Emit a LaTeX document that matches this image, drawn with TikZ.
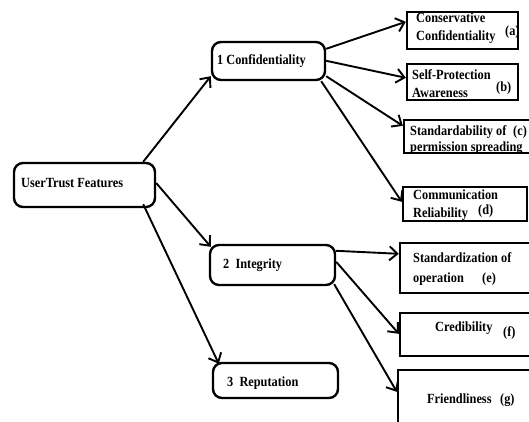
\documentclass[tikz,border=0pt]{standalone}
\usepackage{fontspec}
\setmainfont{Liberation Serif}[FakeStretch=0.88]
\usetikzlibrary{arrows.meta,calc}
\tikzset{
  rbox/.style={draw,line width=2.4pt,rounded corners=9pt,inner sep=0pt},
  sbox/.style={draw,line width=2.4pt,inner sep=0pt},
  txt/.style={anchor=base west,inner sep=0pt,font=\fontsize{14}{16}\selectfont\bfseries},
  conn/.style={line width=1.9pt,-{Straight Barb[length=8pt,width=14pt,line width=1.9pt]}}
}
\begin{document}
\begin{tikzpicture}[x=1pt,y=-1pt]
\useasboundingbox (0,0) rectangle (529,421);
% main boxes
\node[rbox,minimum width=141pt,minimum height=44pt] (ut) at (84.5,185) {};
\node[rbox,minimum width=113pt,minimum height=38pt] (conf) at (268.5,61) {};
\node[rbox,minimum width=125pt,minimum height=40pt] (int) at (272.5,265) {};
\node[rbox,minimum width=125pt,minimum height=35pt] (rep) at (275.5,380.5) {};
% feature boxes
\node[sbox,minimum width=111pt,minimum height=37pt] (a) at (462.5,30.5) {};
\node[sbox,minimum width=111pt,minimum height=36pt] (b) at (462.5,82) {};
\node[sbox,minimum width=128pt,minimum height=33pt] (c) at (468,136.5) {};
\node[sbox,minimum width=124pt,minimum height=34pt] (d) at (465,204) {};
\node[sbox,minimum width=135pt,minimum height=50pt] (e) at (467.5,268) {};
\node[sbox,minimum width=135pt,minimum height=43pt] (f) at (467.5,334.5) {};
\node[sbox,minimum width=137pt,minimum height=60pt] (g) at (466.5,400) {};
% texts
\node[txt] (tut) at (21,187) {UserTrust Features};
\node[txt] (tconf) at (217,64) {1 Confidentiality};
\node[txt] (tint) at (223,268) {2\ \ Integrity};
\node[txt] (trep) at (227,386) {3\ \ Reputation};
\node[txt] (ta1) at (416,22) {Conservative};
\node[txt] (ta2) at (416,40) {Confidentiality};
\node[txt] (ta3) at (505,35) {(a)};
\node[txt] (tb1) at (412,79) {Self-Protection};
\node[txt] (tb2) at (412,97) {Awareness};
\node[txt] (tb3) at (496,91) {(b)};
\node[txt] (tc1) at (410,135) {Standardability of};
\node[txt] (tc2) at (410,151) {permission spreading};
\node[txt] (tc3) at (513,135) {(c)};
\node[txt] (td1) at (413,199) {Communication};
\node[txt] (td2) at (413,217) {Reliability};
\node[txt] (td3) at (478,214.5) {(d)};
\node[txt] (te1) at (413,262) {Standardization of};
\node[txt] (te2) at (413,282) {operation};
\node[txt] (te3) at (482,282) {(e)};
\node[txt] (tf1) at (435,331) {Credibility};
\node[txt] (tf3) at (503,336) {(f)};
\node[txt] (tg1) at (427,403) {Friendliness};
\node[txt] (tg3) at (500,403) {(g)};
% connectors
\draw[conn] ($(ut.north east)+(-13,0)$) -- ($(conf.south west)+(0,-5)$);
\draw[conn] ($(ut.east)+(0,-2)$) -- ($(int.north west)+(2,3)$);
\draw[conn] ($(ut.south east)+(-13,-4)$) -- ($(rep.north west)+(7,2)$);
\draw[conn] ($(conf.north east)+(0,8)$) -- ($(a.north west)+(0,11)$);
\draw[conn] ($(conf.north east)+(0,20)$) -- ($(b.north west)+(0,15)$);
\draw[conn] ($(conf.south east)+(0,-5)$) -- ($(c.north west)+(0,7)$);
\draw[conn] ($(conf.south east)+(-5,0)$) -- ($(d.north west)+(0,16)$);
\draw[conn] ($(int.north east)+(0,7)$) -- ($(e.north west)+(0,12)$);
\draw[conn] ($(int.north east)+(0,18)$) -- ($(f.north west)+(0,22)$);
\draw[conn] ($(int.south east)+(-2,-2)$) -- ($(g.north west)+(0,23)$);
\end{tikzpicture}
\end{document}
